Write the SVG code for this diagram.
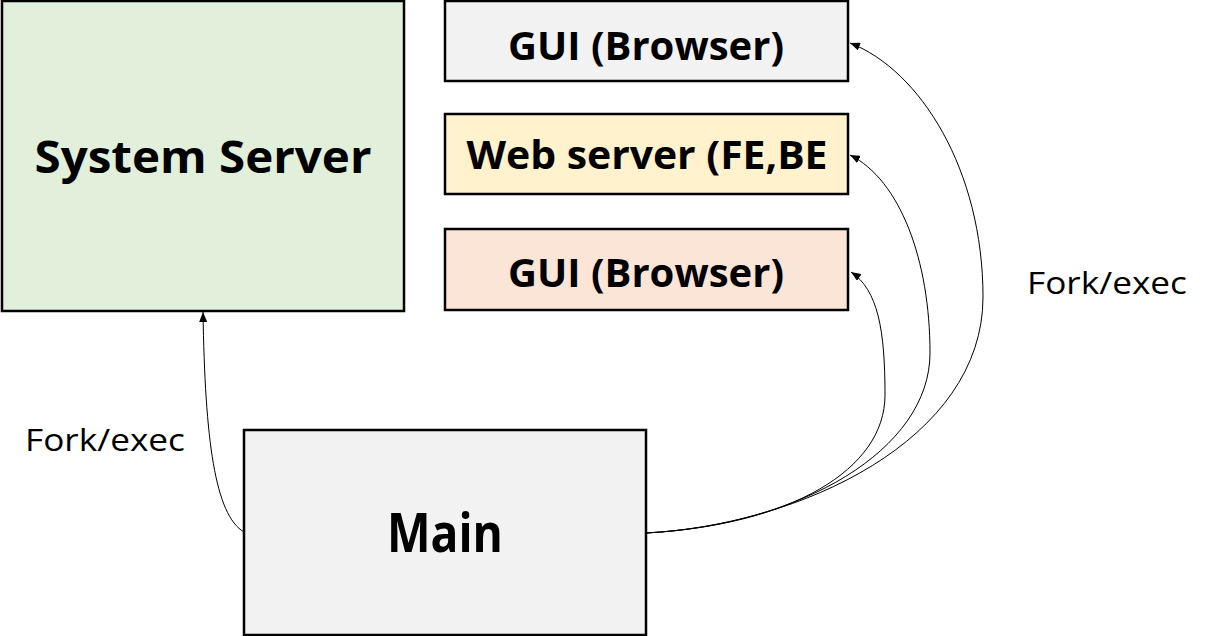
<svg xmlns="http://www.w3.org/2000/svg" width="1211" height="636" viewBox="0 0 1211 636">
<style>
.box{stroke:#000;stroke-width:2.5}
.lbl{font-family:"Open Sans","Noto Sans","Liberation Sans",sans-serif;font-weight:bold;fill:#000;text-anchor:middle}
.note{font-family:"Open Sans","Noto Sans","Liberation Sans",sans-serif;font-size:31px;fill:#000}
.conn{fill:none;stroke:#000;stroke-width:1}
</style>
<defs>
<marker id="ah" markerUnits="userSpaceOnUse" markerWidth="10" markerHeight="8" refX="10" refY="4" orient="auto">
<path d="M0,0 L10,4 L0,8 z" fill="#000"/>
</marker>
</defs>
<rect width="1211" height="636" fill="#fff"/>
<g id="system-server">
<rect class="box" x="2" y="1" width="402" height="310" fill="#E2EFDA"/>
<text class="lbl" x="203" y="173" font-size="44" textLength="337" lengthAdjust="spacingAndGlyphs">System Server</text>
</g>
<g id="gui-top">
<rect class="box" x="445" y="1" width="403" height="80" fill="#F2F2F2"/>
<text class="lbl" x="646" y="60" font-size="40" textLength="276" lengthAdjust="spacingAndGlyphs">GUI (Browser)</text>
</g>
<g id="web-server">
<rect class="box" x="445" y="114" width="403" height="80" fill="#FFF2CC"/>
<text class="lbl" x="647" y="169" font-size="40" textLength="361" lengthAdjust="spacingAndGlyphs">Web server (FE,BE</text>
</g>
<g id="gui-bottom">
<rect class="box" x="445" y="229" width="403" height="81" fill="#FBE5D6"/>
<text class="lbl" x="646" y="287" font-size="40" textLength="276" lengthAdjust="spacingAndGlyphs">GUI (Browser)</text>
</g>
<g id="main">
<rect class="box" x="244" y="430" width="402" height="205" fill="#F2F2F2"/>
<text class="lbl" x="445" y="552" font-size="53" textLength="116" lengthAdjust="spacingAndGlyphs">Main</text>
</g>
<g id="connectors">
<path class="conn" marker-end="url(#ah)" d="M244,532 C215,515 205,440 203,312"/>
<path class="conn" marker-end="url(#ah)" d="M646,533 C800,525 983,440 983,297 C983,170 920,70 850,43"/>
<path class="conn" marker-end="url(#ah)" d="M646,533 C800,525 930,450 930,353 C930,260 900,180 850,155"/>
<path class="conn" marker-end="url(#ah)" d="M646,533 C790,525 885,470 885,395 C885,330 878,290 851,272"/>
</g>
<text class="note" x="25" y="451" textLength="160" lengthAdjust="spacingAndGlyphs">Fork/exec</text>
<text class="note" x="1027" y="294" textLength="160" lengthAdjust="spacingAndGlyphs">Fork/exec</text>
</svg>
